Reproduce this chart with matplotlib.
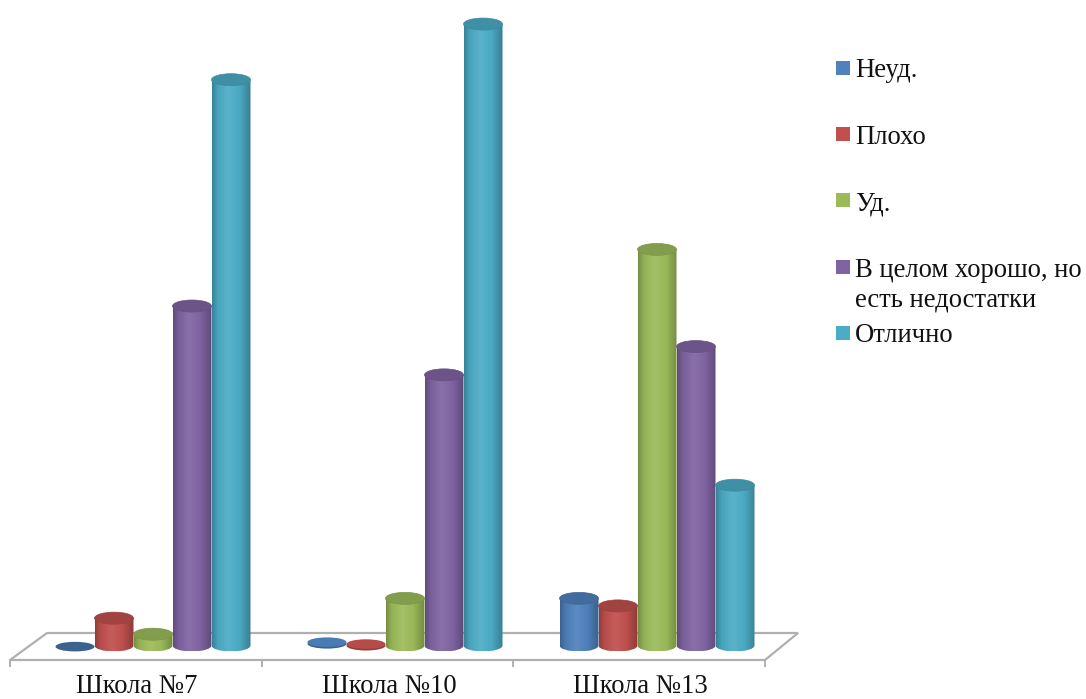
import numpy as np
import matplotlib
matplotlib.use("Agg")
import matplotlib.pyplot as plt
from matplotlib.colors import LinearSegmentedColormap, to_rgb
from matplotlib.patches import Ellipse, PathPatch, Rectangle, Polygon
from matplotlib.path import Path
from matplotlib.transforms import Affine2D

plt.rcParams['font.family'] = ['Liberation Serif', 'DejaVu Serif']

schools = ['Школа №7', 'Школа №10', 'Школа №13']
series = ['Неуд.', 'Плохо', 'Уд.', 'В целом хорошо, но\nесть недостатки', 'Отлично']
neud = [0.0, 0.3, 5.0]
ploho = [2.9, 0.1, 4.2]
ud = [1.2, 5.0, 42.0]
good = [36.0, 28.7, 31.7]
excellent = [60.0, 65.9, 17.0]
values = [neud, ploho, ud, good, excellent]
colors = ['#4F81BD', '#C0504D', '#9BBB59', '#8064A2', '#4BACC6']

W, H = 1086, 699
fig = plt.figure(figsize=(W / 100, H / 100), dpi=100)
ax = fig.add_axes([0, 0, 1, 1])
ax.axis('off')

# pixel layout: category spacing 252 px, 1 unit = 9.43 px
PX_CAT, PX_UNIT, X0, Y0 = 252.0, 9.43, 153.0, 645.5
xlim = (-X0 / PX_CAT, (W - X0) / PX_CAT)
ylim = ((Y0 - H) / PX_UNIT, Y0 / PX_UNIT)
px = Affine2D().scale(1 / W, -1 / H).translate(0, 1) + fig.transFigure

# floor
floor = [(10, 660), (47, 633), (798, 633), (765, 660)]
ax.add_patch(Polygon(floor, closed=True, fill=True, facecolor='white', edgecolor='#B0B0B0',
                     lw=1.6, transform=px, zorder=1))
for tx in (10, 262, 513, 765):
    ax.plot([tx, tx], [660, 666], color='#B0B0B0', lw=1.4, transform=px, zorder=1)

bw = 39.0 / PX_CAT
ew = 39.0 / PX_CAT
eh = 12.0 / PX_UNIT


def shade(c, f):
    c = np.array(to_rgb(c))
    return tuple(c * f) if f <= 1 else tuple(c + (1 - c) * (f - 1))


z = 2
for s, (vals, col) in enumerate(zip(values, colors)):
    cmap = LinearSegmentedColormap.from_list('c', [
        (0.0, shade(col, 0.76)), (0.14, shade(col, 0.95)), (0.42, shade(col, 1.08)),
        (0.72, shade(col, 0.98)), (1.0, shade(col, 0.74))])
    for i, v in enumerate(vals):
        xc = i + (s - 2) * 39.0 / PX_CAT
        left, right = xc - bw / 2, xc + bw / 2
        if v > 0.8:
            k = 0.5523
            a, b = ew / 2, eh / 2
            verts = [(left, v), (left, 0), (left, -b * k), (xc - a * k, -b), (xc, -b),
                     (xc + a * k, -b), (right, -b * k), (right, 0), (right, v), (left, v)]
            codes = [Path.MOVETO, Path.LINETO, Path.CURVE4, Path.CURVE4, Path.CURVE4,
                     Path.CURVE4, Path.CURVE4, Path.CURVE4, Path.LINETO, Path.CLOSEPOLY]
            clip = PathPatch(Path(verts, codes), facecolor='none', edgecolor='none',
                             transform=ax.transData)
            ax.add_patch(clip)
            im = ax.imshow(np.linspace(0, 1, 64)[None, :], cmap=cmap, aspect='auto',
                           extent=(left, right, -b, v), zorder=z)
            im.set_clip_path(clip)
            top = shade(col, 0.84)
            ax.add_patch(Ellipse((xc, v), ew, eh, facecolor=top, edgecolor=shade(col, 0.8),
                                 lw=0.5, zorder=z + 0.5))
        else:
            h = eh * 0.8
            ax.add_patch(Ellipse((xc, v - 0.12), ew, h, facecolor=shade(col, 0.75),
                                 edgecolor='none', zorder=z))
            if v > 0:
                ax.add_patch(Ellipse((xc, v + 0.05), ew, h, facecolor=shade(col, 0.95),
                                     edgecolor='none', zorder=z + 0.2))
        z += 1

ax.set_xlim(*xlim)
ax.set_ylim(*ylim)

FS = 19.2
for tx, name in zip((137, 389, 640), schools):
    ax.text(tx, 693, name, transform=px, ha='center', va='baseline', fontsize=FS,
            color='#111111')

swatch_y = [68, 134, 200, 267, 333]
text_y = [[77], [144], [210], [277, 307], [342]]
for sy, tys, name, col in zip(swatch_y, text_y, series, colors):
    ax.add_patch(Rectangle((836, sy - 7), 14, 14, facecolor=col, edgecolor='none', transform=px))
    for ty, line in zip(tys, name.split('\n')):
        ax.text(855, ty, line, transform=px, ha='left', va='baseline', fontsize=FS,
                color='#111111')

fig.savefig('out.png', dpi=100)
